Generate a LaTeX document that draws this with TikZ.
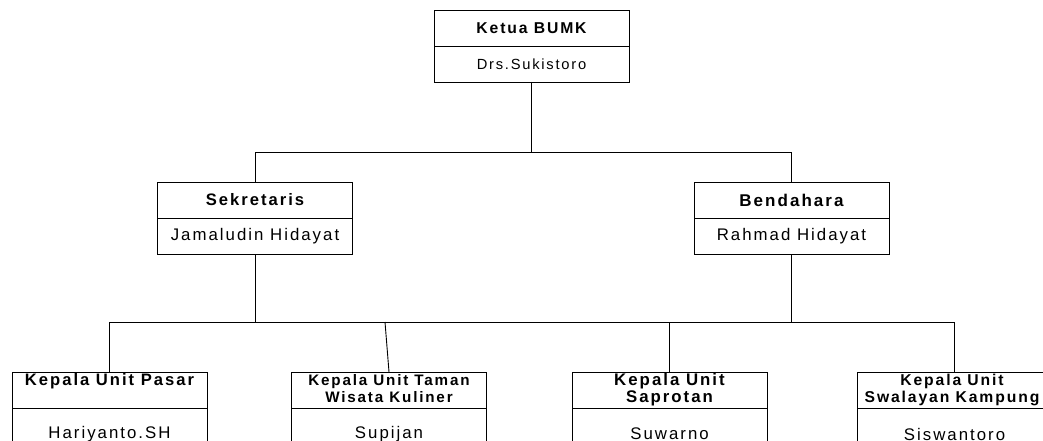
\documentclass[tikz,border=0pt]{standalone}
\usepackage{fontspec}
\setmainfont{Liberation Sans}
\newfontfamily\arialsp[LetterSpace=12]{Liberation Sans}
\begin{document}
\begin{tikzpicture}[x=1pt,y=-1pt,line width=0.9pt,
  box/.style={draw, minimum width=195pt, minimum height=36pt, inner sep=0pt, outer sep=0pt},
  namebox/.style={box, minimum height=50pt},
  ttl/.style={font=\arialsp\bfseries\fontsize{#1}{17}\selectfont, align=center, inner sep=0pt},
  nm/.style={font=\arialsp\fontsize{#1}{18}\selectfont, inner sep=0pt}]
\clip (0,0) rectangle (1043,441);
% top
\node[box] (kt) at (531.5,28) {};
\node[box] (kn) at (531.5,64) {};
\node[ttl=15.7] (ktt) at (kt.center) {Ketua BUMK};
\node[nm=14.7] (knt) at (kn.center) {Drs.Sukistoro};
% level 2
\node[box] (st) at (255,200) {};
\node[box] (sn) at (255,236) {};
\node[ttl=16.6] (stt) at (st.center) {Sekretaris};
\node[nm=16.8] (snt) at (sn.center) {Jamaludin Hidayat};
\node[box] (bt) at (791.5,200) {};
\node[box] (bn) at (791.5,236) {};
\node[ttl=17] (btt) at (bt.center) {Bendahara};
\node[nm=16.8] (bnt) at (bn.center) {Rahmad Hidayat};
% level 3
\node[box] (pt) at (109.5,390) {};
\node[namebox] (pn) at (109.5,433) {};
\node[ttl=16.6, anchor=north] (ptt) at (109.5,373) {Kepala Unit Pasar};
\node[nm=16.8] (pnt) at (109.5,434) {Hariyanto.SH};
\node[box] (tt) at (389,390) {};
\node[namebox] (tn) at (389,433) {};
\node[ttl=15.2, anchor=north] (ttt) at (389,374) {Kepala Unit Taman\\Wisata Kuliner};
\node[nm=16.8] (tnt) at (389,434) {Supijan};
\node[box] (at) at (669.5,390) {};
\node[namebox] (an) at (669.5,433) {};
\node[ttl=16.8, anchor=north] (att) at (669.5,373) {Kepala Unit\\Saprotan};
\node[nm=16.8] (ant) at (669.5,434) {Suwarno};
\node[box] (wt) at (954.5,390) {};
\node[namebox] (wn) at (954.5,433) {};
\node[ttl=15.7, anchor=north] (wtt) at (952,374) {Kepala Unit\\Swalayan Kampung};
\node[nm=16.8] (wnt) at (954.5,434) {Siswantoro};
% connectors
\coordinate (j1) at (531.5,152);
\coordinate (j2) at (255,322);
\coordinate (tj) at (385,322);
\draw (kn.south) -- (j1);
\draw (st.north) -- (st.north |- j1) -- (bt.north |- j1) -- (bt.north);
\draw (sn.south) -- (j2);
\draw (bn.south) -- (bn.south |- j2);
\draw (pt.north) -- (pt.north |- j2) -- (wt.north |- j2) -- (wt.north);
\draw (at.north) -- (at.north |- j2);
\draw (tj) -- (tt.north);
\end{tikzpicture}
\end{document}
